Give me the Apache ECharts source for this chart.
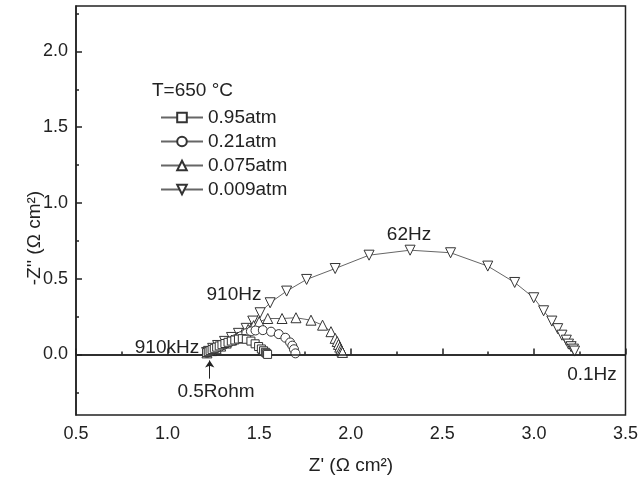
<!DOCTYPE html>
<html>
<head>
<meta charset="utf-8">
<script src="https://cdn.jsdelivr.net/npm/echarts@6/dist/echarts.min.js"></script>
<style>
  html, body { margin: 0; padding: 0; background: #fff; }
  #main { width: 641px; height: 481px; }
</style>
</head>
<body>
<div id="main"></div>
<script>
// series names
const seriesNames = ['0.95atm', '0.21atm', '0.075atm', '0.009atm'];

// 0.95 atm (squares)
const x095 = [1.213, 1.222, 1.232, 1.243, 1.255, 1.268, 1.282, 1.297, 1.313, 1.33, 1.348, 1.367, 1.387, 1.408, 1.43, 1.455, 1.478, 1.497, 1.512, 1.524, 1.534, 1.541, 1.546];
const y095 = [0.012, 0.018, 0.025, 0.032, 0.04, 0.048, 0.056, 0.064, 0.072, 0.08, 0.088, 0.095, 0.101, 0.104, 0.1, 0.088, 0.07, 0.052, 0.036, 0.024, 0.014, 0.007, 0.0];

// 0.21 atm (circles)
const x021 = [1.215, 1.228, 1.243, 1.26, 1.285, 1.31, 1.34, 1.37, 1.40, 1.43, 1.455, 1.48, 1.52, 1.565, 1.607, 1.643, 1.669, 1.681, 1.69, 1.698];
const y021 = [0.01, 0.016, 0.025, 0.035, 0.05, 0.065, 0.085, 0.10, 0.12, 0.14, 0.152, 0.158, 0.16, 0.15, 0.134, 0.11, 0.079, 0.058, 0.034, 0.007];

// 0.075 atm (up triangles)
const x0075 = [1.215, 1.24, 1.265, 1.29, 1.32, 1.35, 1.38, 1.41, 1.44, 1.47, 1.50, 1.547, 1.625, 1.701, 1.783, 1.846, 1.892, 1.915, 1.926, 1.933, 1.94, 1.946, 1.951, 1.955];
const y0075 = [0.01, 0.025, 0.04, 0.055, 0.075, 0.095, 0.115, 0.14, 0.165, 0.19, 0.215, 0.237, 0.237, 0.242, 0.226, 0.193, 0.15, 0.106, 0.085, 0.066, 0.048, 0.033, 0.022, 0.013];

// 0.009 atm (down triangles)
const x0009 = [1.213, 1.224, 1.246, 1.273, 1.311, 1.349, 1.387, 1.429, 1.465, 1.505, 1.56, 1.65, 1.759, 1.915, 2.10, 2.324, 2.545, 2.748, 2.895, 2.999, 3.053, 3.098, 3.13, 3.153, 3.177, 3.189, 3.203, 3.216, 3.222];
const y0009 = [0.013, 0.02, 0.04, 0.059, 0.086, 0.112, 0.139, 0.172, 0.22, 0.275, 0.341, 0.418, 0.495, 0.567, 0.655, 0.688, 0.671, 0.583, 0.475, 0.374, 0.288, 0.22, 0.17, 0.127, 0.094, 0.068, 0.051, 0.035, 0.022];

// axis ticks
const yMajor = [0, 0.5, 1.0, 1.5, 2.0];
const yMinor = [-0.25, 0.25, 0.75, 1.25, 1.75, 2.25];

// arrow marking 0.5Rohm (Z', -Z'')
const rohmX = 1.23;
const rohmArrow = [-0.16, -0.04];

const font = 'Liberation Sans, Arial, sans-serif';
const ink = '#222';

const zip = (xs, ys) => xs.map((x, i) => [x, ys[i]]);

const chart = echarts.init(document.getElementById('main'));

const markerStyle = { color: '#fff', borderColor: '#333', borderWidth: 1 };
const lineStyle = { color: '#666', width: 1 };

const option = {
  animation: false,
  backgroundColor: '#fff',
  textStyle: { fontFamily: font },
  grid: {
    left: 76, right: 14, top: 6, bottom: 66,
    show: true, borderColor: ink, borderWidth: 1.5
  },
  legend: {
    orient: 'vertical',
    left: 155, top: 103,
    itemWidth: 42, itemHeight: 12, itemGap: 5,
    textStyle: { fontSize: 19, color: ink, fontFamily: font },
    data: seriesNames
  },
  xAxis: {
    type: 'value', min: 0.5, max: 3.5, interval: 0.5,
    axisLine: { lineStyle: { color: ink, width: 1.5 } },
    axisTick: { inside: true, length: 6, lineStyle: { color: ink, width: 1.5 } },
    minorTick: { show: true, splitNumber: 2, length: 3, lineStyle: { color: ink, width: 1.5 } },
    axisLabel: { fontSize: 18, color: ink, margin: 10, formatter: v => v.toFixed(1) },
    splitLine: { show: false }
  },
  yAxis: [
    {
      type: 'value', min: -0.4, max: 2.3,
      axisLine: { show: true, lineStyle: { color: ink, width: 1.5 } },
      axisTick: { inside: true, length: 6, customValues: yMajor, lineStyle: { color: ink, width: 1.5 } },
      axisLabel: { fontSize: 18, color: ink, margin: 8, customValues: yMajor, formatter: v => v.toFixed(1) },
      splitLine: { show: false }
    },
    {
      type: 'value', min: -0.4, max: 2.3, position: 'left',
      axisLine: { show: false },
      axisTick: { show: true, inside: true, length: 3, customValues: yMinor, lineStyle: { color: ink, width: 1.5 } },
      axisLabel: { show: false },
      splitLine: { show: false }
    }
  ],
  series: [
    {
      name: seriesNames[0], type: 'line', data: zip(x095, y095),
      symbol: 'rect', symbolSize: 8, showAllSymbol: true,
      itemStyle: markerStyle, lineStyle: lineStyle, z: 5,
      markLine: {
        silent: true, symbol: 'none', label: { show: false },
        lineStyle: { color: ink, width: 1.5, type: 'solid' },
        data: [{ yAxis: 0 }]
      }
    },
    {
      name: seriesNames[1], type: 'line', data: zip(x021, y021),
      symbol: 'circle', symbolSize: 9, showAllSymbol: true,
      itemStyle: markerStyle, lineStyle: lineStyle, z: 4
    },
    {
      name: seriesNames[2], type: 'line', data: zip(x0075, y0075),
      symbol: 'triangle', symbolSize: 10, showAllSymbol: true,
      itemStyle: markerStyle, lineStyle: lineStyle, z: 3
    },
    {
      name: seriesNames[3], type: 'line', data: zip(x0009, y0009),
      symbol: 'triangle', symbolRotate: 180, symbolSize: 10, showAllSymbol: true,
      itemStyle: markerStyle, lineStyle: lineStyle, z: 2
    },
    {
      // annotation arrow for 0.5Rohm
      type: 'line', data: [], silent: true, z: 6,
      markLine: {
        silent: true, symbol: ['none', 'arrow'], symbolSize: 7, label: { show: false },
        lineStyle: { color: ink, width: 1, type: 'solid' },
        data: [[{ coord: [rohmX, rohmArrow[0]] }, { coord: [rohmX, rohmArrow[1]] }]]
      }
    }
  ],
  graphic: [
    { type: 'text', left: 152, top: 81, style: { text: 'T=650 °C', font: '19px ' + font, fill: ink } },
    { type: 'text', x: 167, y: 348, style: { text: '910kHz', font: '19px ' + font, fill: ink, textAlign: 'center', textVerticalAlign: 'middle' } },
    { type: 'text', x: 216, y: 392, style: { text: '0.5Rohm', font: '19px ' + font, fill: ink, textAlign: 'center', textVerticalAlign: 'middle' } },
    { type: 'text', x: 234, y: 295, style: { text: '910Hz', font: '19px ' + font, fill: ink, textAlign: 'center', textVerticalAlign: 'middle' } },
    { type: 'text', x: 409, y: 235, style: { text: '62Hz', font: '19px ' + font, fill: ink, textAlign: 'center', textVerticalAlign: 'middle' } },
    { type: 'text', x: 592, y: 375, style: { text: '0.1Hz', font: '19px ' + font, fill: ink, textAlign: 'center', textVerticalAlign: 'middle' } },
    { type: 'text', x: 351, y: 466, style: { text: "Z' (Ω cm²)", font: '19px ' + font, fill: ink, textAlign: 'center', textVerticalAlign: 'middle' } },
    { type: 'text', x: 35, y: 238, rotation: Math.PI / 2, style: { text: "-Z'' (Ω cm²)", font: '19px ' + font, fill: ink, textAlign: 'center', textVerticalAlign: 'middle' } }
  ]
};

chart.setOption(option);
window.addEventListener('resize', function () {
  chart.resize();
});
</script>
</body>
</html>
